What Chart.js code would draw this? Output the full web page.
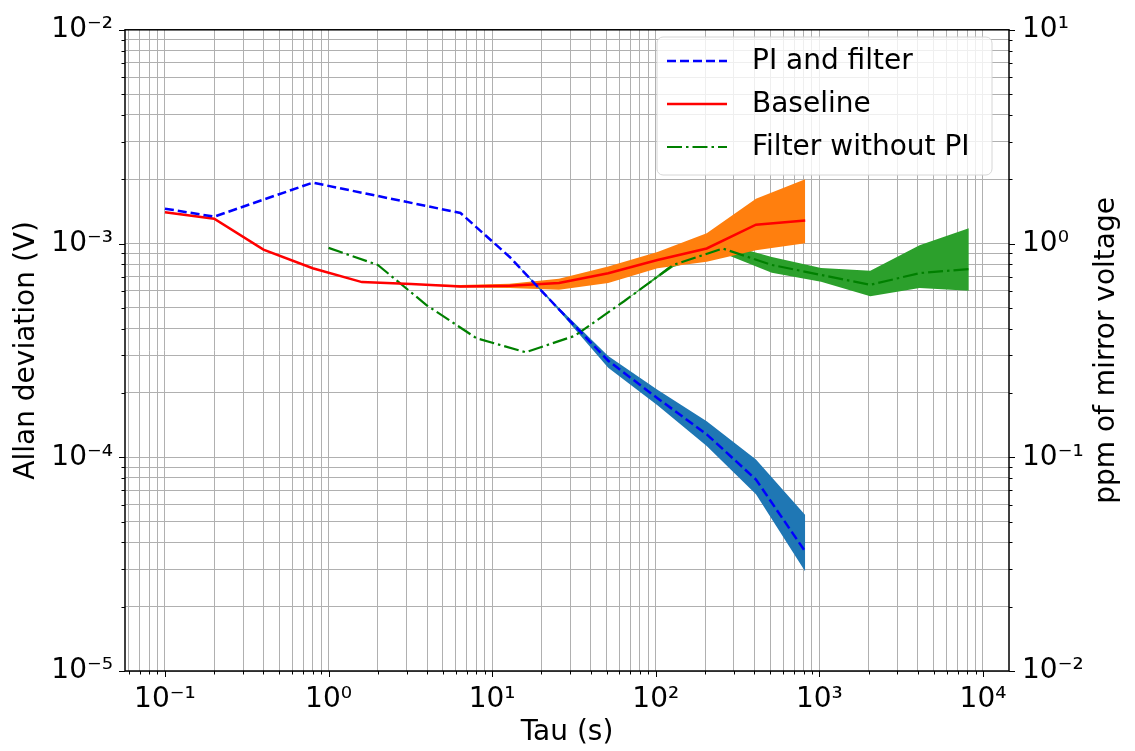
<!DOCTYPE html>
<html>
<head>
<meta charset="utf-8">
<script src="https://cdn.jsdelivr.net/npm/chart.js@4.4.0/dist/chart.umd.min.js"></script>
<style>
  html, body { margin: 0; padding: 0; background: #fff; }
  #wrap { width: 1135px; height: 751px; }
</style>
</head>
<body>
<div id="wrap"><canvas id="adev" width="1135" height="751"></canvas></div>
<script>
// PI and filter
const tauPI  = [0.1, 0.2, 0.8, 6.4, 12.8, 25.6, 51.2, 102.4, 204.8, 409.6, 819.2];
const adevPI = [1.456e-3, 1.336e-3, 1.927e-3, 1.39e-3, 8.65e-4, 4.92e-4, 2.83e-4, 1.89e-4, 1.28e-4, 7.87e-5, 3.62e-5];
const hiPI   = [1.456e-3, 1.336e-3, 1.927e-3, 1.39e-3, 8.65e-4, 5.0e-4, 2.98e-4, 2.07e-4, 1.476e-4, 9.75e-5, 5.37e-5];
const loPI   = [1.456e-3, 1.336e-3, 1.927e-3, 1.39e-3, 8.65e-4, 4.85e-4, 2.62e-4, 1.75e-4, 1.13e-4, 6.71e-5, 2.92e-5];

// Baseline
const tauBase  = [0.1, 0.2, 0.4, 0.8, 1.6, 3.2, 6.4, 12.8, 25.6, 51.2, 102.4, 204.8, 409.6, 819.2];
const adevBase = [1.40e-3, 1.306e-3, 9.37e-4, 7.66e-4, 6.60e-4, 6.46e-4, 6.30e-4, 6.35e-4, 6.53e-4, 7.26e-4, 8.37e-4, 9.48e-4, 1.225e-3, 1.283e-3];
const hiBase   = [1.40e-3, 1.306e-3, 9.37e-4, 7.66e-4, 6.60e-4, 6.46e-4, 6.40e-4, 6.48e-4, 6.84e-4, 7.80e-4, 9.14e-4, 1.116e-3, 1.62e-3, 2.00e-3];
const loBase   = [1.40e-3, 1.306e-3, 9.37e-4, 7.66e-4, 6.60e-4, 6.46e-4, 6.22e-4, 6.20e-4, 6.08e-4, 6.53e-4, 7.66e-4, 8.22e-4, 9.31e-4, 1.003e-3];

// Filter without PI
const tauFilt  = [1, 2, 4, 8, 16, 32, 64, 128, 256, 512, 1024, 2048, 4096, 8192];
const adevFilt = [9.54e-4, 7.94e-4, 5.13e-4, 3.61e-4, 3.10e-4, 3.70e-4, 5.37e-4, 7.94e-4, 9.48e-4, 7.94e-4, 7.13e-4, 6.41e-4, 7.27e-4, 7.60e-4];
const hiFilt   = [9.54e-4, 7.94e-4, 5.13e-4, 3.61e-4, 3.10e-4, 3.70e-4, 5.37e-4, 8.11e-4, 1.003e-3, 8.64e-4, 7.69e-4, 7.45e-4, 9.82e-4, 1.18e-3];
const loFilt   = [9.54e-4, 7.94e-4, 5.13e-4, 3.61e-4, 3.10e-4, 3.70e-4, 5.37e-4, 7.77e-4, 9.02e-4, 7.29e-4, 6.62e-4, 5.66e-4, 6.19e-4, 6.02e-4];

const seriesNames = ['PI and filter', 'Baseline', 'Filter without PI'];

const SUP = {'-': '\u207B', '0': '\u2070', '1': '\u00B9', '2': '\u00B2', '3': '\u00B3', '4': '\u2074',
             '5': '\u2075', '6': '\u2076', '7': '\u2077', '8': '\u2078', '9': '\u2079'};
function powLabel(v) {
  const e = Math.log10(v);
  if (Math.abs(e - Math.round(e)) > 1e-6) return '';
  return '10' + String(Math.round(e)).split('').map(c => SUP[c]).join('');
}
function logTicks(scale) {
  const out = [];
  for (let n = -6; n <= 5; n++) {
    for (let k = 1; k <= 9; k++) {
      const v = k * Math.pow(10, n);
      if (v >= scale.min * 0.9999 && v <= scale.max * 1.0001) out.push({value: v, major: k === 1});
    }
  }
  scale.ticks = out;
}
function pts(xs, ys) { return xs.map((x, i) => ({x: x, y: ys[i]})); }

const FONT = 'DejaVu Sans';

function band(xs, hi, lo, color) {
  return [
    {data: pts(xs, hi), borderWidth: 0, pointRadius: 0, backgroundColor: color, fill: '+1', order: 1},
    {data: pts(xs, lo), borderWidth: 0, pointRadius: 0, backgroundColor: color, fill: false, order: 1}
  ];
}
function line(xs, ys, name, color, dash, w) {
  return {label: name, data: pts(xs, ys), borderColor: color, borderWidth: w, borderDash: dash,
          pointRadius: 0, fill: false, tension: 0, order: 0};
}

const lineSets = [
  line(tauPI, adevPI, seriesNames[0], '#0000ff', [9, 4], 2.5),
  line(tauBase, adevBase, seriesNames[1], '#ff0000', [], 2.5),
  line(tauFilt, adevFilt, seriesNames[2], '#008000', [15, 4, 2.5, 4], 2.2)
];

const framePlugin = {
  id: 'frame',
  afterDraw(chart) {
    const ctx = chart.ctx, a = chart.chartArea;
    ctx.save();
    // tick marks
    ctx.strokeStyle = '#000';
    ctx.lineWidth = 1;
    ['x', 'y', 'y2'].forEach(id => {
      const s = chart.scales[id];
      s.ticks.forEach(t => {
        const len = t.major ? 6 : 3.5;
        const p = Math.round(s.getPixelForValue(t.value)) + 0.5;
        ctx.beginPath();
        if (id === 'x') { ctx.moveTo(p, a.bottom); ctx.lineTo(p, a.bottom + len); }
        else if (id === 'y') { ctx.moveTo(a.left, p); ctx.lineTo(a.left - len, p); }
        else { ctx.moveTo(a.right, p); ctx.lineTo(a.right + len, p); }
        ctx.stroke();
      });
    });
    ctx.lineWidth = 1.5;
    ctx.strokeRect(a.left, a.top, a.right - a.left, a.bottom - a.top);

    // right axis title, reading bottom to top
    ctx.fillStyle = '#000';
    ctx.font = '28px "' + FONT + '"';
    ctx.textAlign = 'center';
    ctx.textBaseline = 'middle';
    ctx.translate(1107, (a.top + a.bottom) / 2);
    ctx.rotate(-Math.PI / 2);
    ctx.fillText('ppm of mirror voltage', 0, 0);
    ctx.restore();

    // legend
    ctx.save();
    const bx = 657, by = 37, bw = 335, bh = 138, r = 6;
    ctx.beginPath();
    ctx.roundRect(bx, by, bw, bh, r);
    ctx.fillStyle = 'rgba(255,255,255,0.8)';
    ctx.fill();
    ctx.strokeStyle = '#d6d6d6';
    ctx.lineWidth = 1;
    ctx.stroke();
    const rows = [61, 104, 147];
    lineSets.forEach((ds, i) => {
      ctx.beginPath();
      ctx.setLineDash(ds.borderDash);
      ctx.strokeStyle = ds.borderColor;
      ctx.lineWidth = ds.borderWidth;
      ctx.moveTo(667, rows[i]);
      ctx.lineTo(727, rows[i]);
      ctx.stroke();
      ctx.setLineDash([]);
      ctx.fillStyle = '#000';
      ctx.font = '28px "' + FONT + '"';
      ctx.textAlign = 'left';
      ctx.textBaseline = 'middle';
      ctx.fillText(ds.label, 752, rows[i] + 1);
    });
    ctx.restore();
  }
};

new Chart(document.getElementById('adev'), {
  type: 'line',
  data: {
    datasets: [
      ...band(tauPI, hiPI, loPI, '#1f77b4'),
      ...band(tauBase, hiBase, loBase, '#ff7f0e'),
      ...band(tauFilt, hiFilt, loFilt, '#2ca02c'),
      ...lineSets
    ]
  },
  options: {
    responsive: false,
    animation: false,
    devicePixelRatio: 1,
    layout: {padding: {top: 22, left: 0, right: 0, bottom: 0}},
    plugins: {legend: {display: false}, tooltip: {enabled: false}},
    scales: {
      x: {
        type: 'logarithmic',
        min: 0.057, max: 14420,
        bounds: 'data',
        z: 1,
        afterBuildTicks: logTicks,
        afterFit(s) { s.height = 80; },
        grid: {color: '#b0b0b0', lineWidth: 1, drawTicks: false},
        border: {display: false},
        ticks: {autoSkip: false, maxRotation: 0, padding: 12, color: '#000',
                font: {family: FONT, size: 28}, callback: v => powLabel(v)},
        title: {display: true, text: 'Tau (s)', color: '#000', font: {family: FONT, size: 28},
                padding: {top: 0, bottom: 1}}
      },
      y: {
        type: 'logarithmic',
        position: 'left',
        min: 1e-5, max: 1e-2,
        bounds: 'data',
        z: 1,
        afterBuildTicks: logTicks,
        afterFit(s) { s.width = 125; },
        grid: {color: '#b0b0b0', lineWidth: 1, drawTicks: false},
        border: {display: false},
        ticks: {autoSkip: false, padding: 12, color: '#000',
                font: {family: FONT, size: 28}, callback: v => powLabel(v)},
        title: {display: true, text: 'Allan deviation (V)', color: '#000', font: {family: FONT, size: 28},
                padding: {top: 10, bottom: 0}}
      },
      y2: {
        type: 'logarithmic',
        position: 'right',
        min: 1e-2, max: 1e1,
        bounds: 'data',
        afterBuildTicks: logTicks,
        afterFit(s) { s.width = 126; },
        grid: {display: false, drawTicks: false},
        border: {display: false},
        ticks: {autoSkip: false, padding: 13, color: '#000',
                font: {family: FONT, size: 28}, callback: v => powLabel(v)}
      }
    }
  },
  plugins: [framePlugin]
});
</script>
</body>
</html>
